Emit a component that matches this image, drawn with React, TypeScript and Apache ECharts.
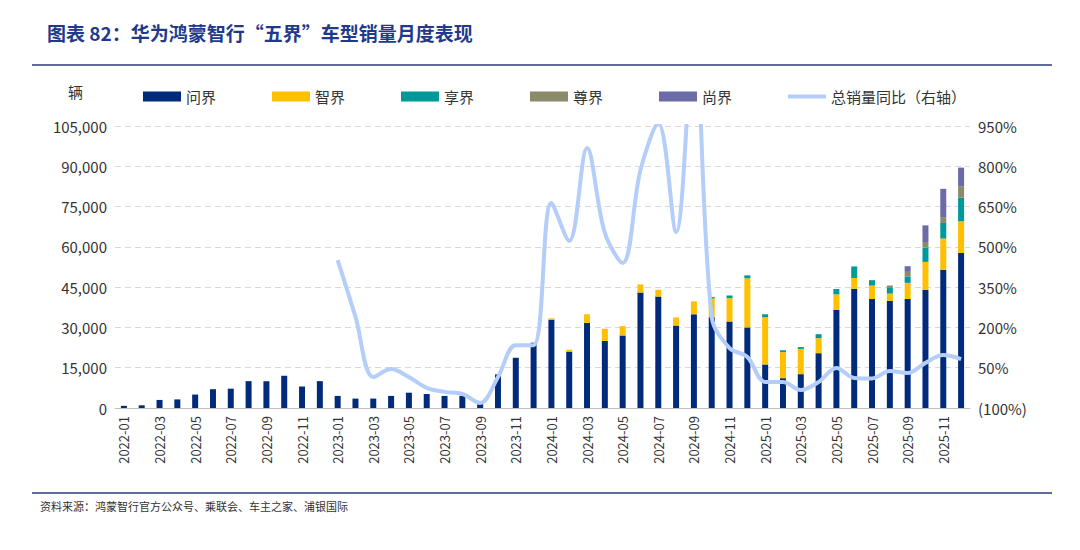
import { useEffect, useRef } from 'react';
import * as echarts from 'echarts';

const months: string[] = [];
for (const y of [2022, 2023, 2024, 2025]) {
  for (let m = 1; m <= 12; m++) months.push(`${y}-${String(m).padStart(2, '0')}`);
}

const wenjie = [
  800, 1000, 3000, 3200, 5000, 7000, 7200, 10000, 10000, 12000, 8000, 10000,
  4500, 3500, 3500, 4500, 5700, 5200, 4500, 4500, 1500, 12500, 18700, 24300,
  32900, 21000, 31700, 25000, 27000, 43000, 41500, 30700, 34900, 33800, 32200, 30000,
  16200, 11100, 12600, 20400, 36500, 44400, 40600, 39900, 40600, 44000, 51500, 57700,
];
const zhijie = [
  0, 0, 0, 0, 0, 0, 0, 0, 0, 0, 0, 0,
  0, 0, 0, 0, 0, 0, 0, 0, 0, 0, 0, 0,
  500, 700, 3200, 4500, 3500, 3000, 2500, 3000, 4800, 7000, 8700, 18300,
  17600, 9700, 9400, 5600, 5800, 4000, 5000, 2700, 6000, 10400, 11600, 11800,
];
const xiangjie = [
  0, 0, 0, 0, 0, 0, 0, 0, 0, 0, 0, 0,
  0, 0, 0, 0, 0, 0, 0, 0, 0, 0, 0, 0,
  0, 0, 0, 0, 0, 0, 0, 0, 0, 500, 1000, 1100,
  1100, 700, 700, 1500, 2000, 4300, 2000, 2100, 2400, 5300, 5800, 8800,
];
const zunjie = [
  0, 0, 0, 0, 0, 0, 0, 0, 0, 0, 0, 0,
  0, 0, 0, 0, 0, 0, 0, 0, 0, 0, 0, 0,
  0, 0, 0, 0, 0, 0, 0, 0, 0, 0, 0, 0,
  0, 0, 0, 0, 0, 0, 0, 900, 1700, 2100, 2200, 4300,
];
const shangjie = [
  0, 0, 0, 0, 0, 0, 0, 0, 0, 0, 0, 0,
  0, 0, 0, 0, 0, 0, 0, 0, 0, 0, 0, 0,
  0, 0, 0, 0, 0, 0, 0, 0, 0, 0, 0, 0,
  0, 0, 0, 0, 0, 0, 0, 0, 2100, 6200, 10500, 6900,
];
const yoy: (number | null)[] = [
  null, null, null, null, null, null, null, null, null, null, null, null,
  451, 240, 15, 45, 15, -25, -40, -48, -81, 15, 134, 134,
  663, 522, 868, 552, 440, 786, 960, 555, 1300, 239, 123, 90,
  -3, -3, -33, -3, 49, 12, 10, 38, 30, 68, 97, 82,
];

const FONT = '"Noto Sans CJK SC", "Noto Sans", sans-serif';

export default function App() {
  const ref = useRef<HTMLDivElement>(null);
  useEffect(() => {
    if (!ref.current) return;
    const chart = echarts.init(ref.current, undefined, { renderer: 'svg' });
    const bar = (name: string, data: number[], color: string) => ({
      name,
      type: 'bar' as const,
      stack: 'total',
      barWidth: 6,
      data: data.map((v) => (v === 0 ? null : v)),
      itemStyle: { color },
    });
    chart.setOption({
      animation: false,
      textStyle: { fontFamily: FONT },
      title: {
        text: '图表 82：华为鸿蒙智行“五界”车型销量月度表现',
        left: 34,
        top: 10,
        textStyle: { color: '#1F3A8A', fontSize: 19, fontWeight: 'bold', fontFamily: FONT },
      },
      graphic: [
        { type: 'line', shape: { x1: 24, y1: 57, x2: 1044, y2: 57 }, style: { stroke: '#2B3A7A', lineWidth: 1.5 } },
        { type: 'line', shape: { x1: 24, y1: 485, x2: 1044, y2: 485 }, style: { stroke: '#2B3A7A', lineWidth: 1.5 } },
        { type: 'text', x: 32, y: 492, style: { text: '资料来源：鸿蒙智行官方公众号、乘联会、车主之家、浦银国际', fill: '#333', font: `11px ${FONT}` } },
        { type: 'text', x: 60, y: 76, style: { text: '辆', fill: '#333', font: `15px ${FONT}` } },
      ],
      legend: {
        top: 76,
        left: 130,
        itemWidth: 38,
        itemHeight: 10,
        itemGap: 56,
        textStyle: { fontSize: 15, color: '#333', fontFamily: FONT },
        data: [
          { name: '问界', icon: 'rect' },
          { name: '智界', icon: 'rect' },
          { name: '享界', icon: 'rect' },
          { name: '尊界', icon: 'rect' },
          { name: '尚界', icon: 'rect' },
          { name: '总销量同比（右轴）', icon: 'path://M0,0 L40,0 L40,4 L0,4 Z', itemHeight: 4 },
        ],
      },
      grid: { left: 107, right: 102, top: 118, bottom: 134 },
      xAxis: {
        type: 'category',
        data: months,
        axisLine: { lineStyle: { color: '#BFBFBF' } },
        axisTick: { interval: 1, lineStyle: { color: '#BFBFBF' } },
        axisLabel: { interval: 1, rotate: 90, color: '#333', fontSize: 13, fontFamily: FONT },
      },
      yAxis: [
        {
          type: 'value',
          min: 0,
          max: 105000,
          interval: 15000,
          axisLabel: {
            color: '#333',
            fontSize: 15,
            fontFamily: FONT,
            formatter: (v: number) => v.toLocaleString('en-US'),
          },
          splitLine: { lineStyle: { color: '#D9D9D9', type: [6, 4] } },
        },
        {
          type: 'value',
          min: -100,
          max: 950,
          interval: 150,
          splitLine: { show: false },
          axisLabel: {
            color: '#333',
            fontSize: 15,
            fontFamily: FONT,
            formatter: (v: number) => (v < 0 ? `(${-v}%)` : `${v}%`),
          },
        },
      ],
      series: [
        bar('问界', wenjie, '#002B7A'),
        bar('智界', zhijie, '#FFC000'),
        bar('享界', xiangjie, '#009999'),
        bar('尊界', zunjie, '#8C8A6A'),
        bar('尚界', shangjie, '#6B6BA8'),
        {
          name: '总销量同比（右轴）',
          type: 'line',
          yAxisIndex: 1,
          smooth: 0.35,
          symbol: 'none',
          data: yoy,
          lineStyle: { color: '#B4CDF9', width: 4 },
          itemStyle: { color: '#B4CDF9' },
        },
      ],
    });
    return () => chart.dispose();
  }, []);
  return <div ref={ref} style={{ width: 1064, height: 534 }} />;
}
